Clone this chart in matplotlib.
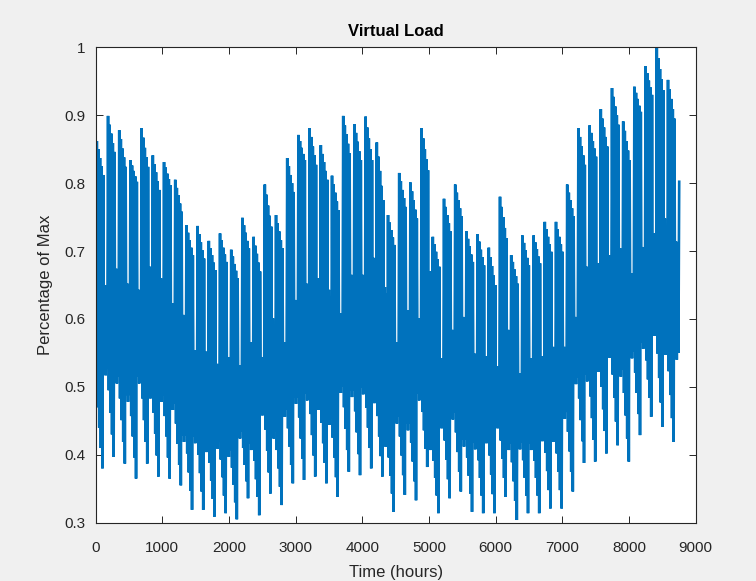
import numpy as np
import matplotlib
matplotlib.use("Agg")
import matplotlib.pyplot as plt

# Daily peak load (fraction of annual max), one row per week: Mon..Sun
daily_max_by_week = [
    [0.862, 0.850, 0.837, 0.825, 0.812, 0.650, 0.640],
    [0.899, 0.886, 0.873, 0.859, 0.846, 0.674, 0.664],
    [0.878, 0.865, 0.851, 0.838, 0.824, 0.652, 0.642],
    [0.834, 0.826, 0.818, 0.810, 0.802, 0.643, 0.633],
    [0.881, 0.867, 0.852, 0.838, 0.824, 0.677, 0.667],
    [0.841, 0.828, 0.816, 0.803, 0.790, 0.660, 0.650],
    [0.831, 0.823, 0.814, 0.806, 0.797, 0.623, 0.613],
    [0.805, 0.793, 0.782, 0.770, 0.758, 0.606, 0.596],
    [0.738, 0.727, 0.716, 0.705, 0.694, 0.554, 0.544],
    [0.737, 0.725, 0.713, 0.701, 0.689, 0.552, 0.542],
    [0.715, 0.704, 0.694, 0.683, 0.672, 0.534, 0.524],
    [0.726, 0.716, 0.705, 0.695, 0.684, 0.544, 0.534],
    [0.702, 0.692, 0.681, 0.671, 0.660, 0.532, 0.522],
    [0.749, 0.738, 0.727, 0.715, 0.704, 0.566, 0.556],
    [0.721, 0.708, 0.696, 0.683, 0.670, 0.544, 0.534],
    [0.798, 0.783, 0.767, 0.752, 0.736, 0.601, 0.591],
    [0.753, 0.741, 0.729, 0.716, 0.704, 0.566, 0.556],
    [0.837, 0.825, 0.812, 0.800, 0.787, 0.628, 0.618],
    [0.871, 0.862, 0.852, 0.843, 0.834, 0.652, 0.642],
    [0.881, 0.868, 0.854, 0.841, 0.827, 0.660, 0.650],
    [0.856, 0.843, 0.831, 0.818, 0.805, 0.643, 0.633],
    [0.811, 0.798, 0.786, 0.773, 0.760, 0.608, 0.598],
    [0.899, 0.885, 0.872, 0.858, 0.844, 0.665, 0.655],
    [0.887, 0.874, 0.861, 0.847, 0.834, 0.665, 0.655],
    [0.898, 0.882, 0.866, 0.850, 0.834, 0.690, 0.680],
    [0.860, 0.839, 0.818, 0.796, 0.775, 0.647, 0.637],
    [0.753, 0.742, 0.731, 0.720, 0.709, 0.566, 0.556],
    [0.815, 0.803, 0.790, 0.778, 0.765, 0.613, 0.603],
    [0.801, 0.788, 0.775, 0.761, 0.748, 0.601, 0.591],
    [0.881, 0.866, 0.850, 0.835, 0.819, 0.670, 0.660],
    [0.721, 0.710, 0.699, 0.688, 0.677, 0.542, 0.532],
    [0.777, 0.765, 0.753, 0.741, 0.729, 0.584, 0.574],
    [0.798, 0.786, 0.775, 0.763, 0.751, 0.603, 0.593],
    [0.729, 0.718, 0.707, 0.695, 0.684, 0.549, 0.539],
    [0.725, 0.714, 0.702, 0.691, 0.679, 0.545, 0.535],
    [0.705, 0.691, 0.678, 0.664, 0.650, 0.530, 0.520],
    [0.780, 0.765, 0.750, 0.734, 0.719, 0.584, 0.574],
    [0.694, 0.684, 0.673, 0.663, 0.652, 0.520, 0.510],
    [0.723, 0.712, 0.701, 0.690, 0.679, 0.542, 0.532],
    [0.723, 0.713, 0.703, 0.692, 0.682, 0.545, 0.535],
    [0.743, 0.732, 0.721, 0.710, 0.699, 0.559, 0.549],
    [0.743, 0.732, 0.721, 0.710, 0.699, 0.559, 0.549],
    [0.798, 0.786, 0.775, 0.763, 0.751, 0.603, 0.593],
    [0.881, 0.868, 0.854, 0.841, 0.827, 0.677, 0.667],
    [0.885, 0.874, 0.862, 0.851, 0.839, 0.682, 0.672],
    [0.909, 0.895, 0.882, 0.868, 0.854, 0.694, 0.684],
    [0.940, 0.927, 0.913, 0.900, 0.886, 0.704, 0.694],
    [0.891, 0.877, 0.862, 0.848, 0.834, 0.667, 0.657],
    [0.942, 0.933, 0.924, 0.914, 0.905, 0.706, 0.696],
    [0.972, 0.962, 0.951, 0.941, 0.930, 0.726, 0.716],
    [1.000, 0.984, 0.968, 0.953, 0.937, 0.748, 0.738],
    [0.952, 0.938, 0.924, 0.909, 0.895, 0.714, 0.704],
]

# Daily minimum load, one row per week: Mon..Sun
daily_min_by_week = [
    [0.500, 0.470, 0.440, 0.410, 0.380, 0.527, 0.517],
    [0.527, 0.495, 0.462, 0.430, 0.397, 0.515, 0.505],
    [0.515, 0.483, 0.451, 0.419, 0.387, 0.488, 0.478],
    [0.488, 0.457, 0.427, 0.396, 0.365, 0.515, 0.505],
    [0.515, 0.483, 0.451, 0.419, 0.387, 0.493, 0.483],
    [0.493, 0.462, 0.431, 0.399, 0.368, 0.488, 0.478],
    [0.488, 0.457, 0.427, 0.396, 0.365, 0.476, 0.466],
    [0.476, 0.446, 0.416, 0.385, 0.355, 0.429, 0.419],
    [0.429, 0.402, 0.374, 0.347, 0.319, 0.427, 0.417],
    [0.427, 0.400, 0.373, 0.346, 0.319, 0.414, 0.404],
    [0.414, 0.388, 0.362, 0.335, 0.309, 0.419, 0.409],
    [0.419, 0.393, 0.367, 0.340, 0.314, 0.407, 0.397],
    [0.407, 0.381, 0.356, 0.330, 0.305, 0.434, 0.424],
    [0.434, 0.410, 0.385, 0.361, 0.336, 0.417, 0.407],
    [0.417, 0.391, 0.364, 0.338, 0.311, 0.468, 0.458],
    [0.468, 0.437, 0.406, 0.374, 0.343, 0.434, 0.424],
    [0.434, 0.407, 0.380, 0.353, 0.326, 0.466, 0.456],
    [0.466, 0.439, 0.412, 0.385, 0.358, 0.485, 0.475],
    [0.485, 0.455, 0.424, 0.394, 0.363, 0.490, 0.480],
    [0.490, 0.460, 0.429, 0.399, 0.368, 0.476, 0.466],
    [0.476, 0.447, 0.417, 0.388, 0.358, 0.454, 0.444],
    [0.454, 0.425, 0.396, 0.367, 0.338, 0.501, 0.491],
    [0.501, 0.470, 0.438, 0.407, 0.375, 0.495, 0.485],
    [0.495, 0.464, 0.433, 0.401, 0.370, 0.499, 0.489],
    [0.499, 0.469, 0.440, 0.410, 0.380, 0.486, 0.476],
    [0.486, 0.457, 0.427, 0.398, 0.368, 0.422, 0.412],
    [0.422, 0.396, 0.369, 0.343, 0.316, 0.456, 0.446],
    [0.456, 0.427, 0.399, 0.370, 0.341, 0.446, 0.436],
    [0.446, 0.418, 0.390, 0.361, 0.333, 0.490, 0.480],
    [0.490, 0.463, 0.436, 0.409, 0.382, 0.417, 0.407],
    [0.417, 0.391, 0.366, 0.340, 0.314, 0.449, 0.439],
    [0.449, 0.421, 0.393, 0.364, 0.336, 0.462, 0.452],
    [0.462, 0.433, 0.404, 0.375, 0.346, 0.422, 0.412],
    [0.422, 0.396, 0.369, 0.343, 0.316, 0.418, 0.408],
    [0.418, 0.392, 0.366, 0.340, 0.314, 0.427, 0.417],
    [0.427, 0.399, 0.371, 0.342, 0.314, 0.449, 0.439],
    [0.449, 0.421, 0.394, 0.366, 0.338, 0.417, 0.407],
    [0.417, 0.389, 0.361, 0.332, 0.304, 0.418, 0.408],
    [0.418, 0.392, 0.366, 0.340, 0.314, 0.417, 0.407],
    [0.417, 0.391, 0.366, 0.340, 0.314, 0.430, 0.420],
    [0.430, 0.403, 0.376, 0.348, 0.321, 0.429, 0.419],
    [0.429, 0.402, 0.375, 0.348, 0.321, 0.463, 0.453],
    [0.463, 0.434, 0.405, 0.375, 0.346, 0.514, 0.504],
    [0.514, 0.483, 0.451, 0.420, 0.388, 0.518, 0.508],
    [0.518, 0.486, 0.454, 0.422, 0.390, 0.532, 0.522],
    [0.532, 0.500, 0.467, 0.435, 0.402, 0.553, 0.543],
    [0.553, 0.518, 0.484, 0.449, 0.414, 0.525, 0.515],
    [0.525, 0.491, 0.458, 0.424, 0.390, 0.552, 0.542],
    [0.552, 0.521, 0.491, 0.460, 0.429, 0.566, 0.556],
    [0.566, 0.539, 0.511, 0.484, 0.456, 0.585, 0.575],
    [0.585, 0.549, 0.513, 0.477, 0.441, 0.557, 0.547],
    [0.557, 0.523, 0.488, 0.454, 0.419, 0.550, 0.540],
]

# Final day of the year (day 365, a Monday)
last_day_max = 0.802
last_day_min = 0.550

# Hour of day at which the daily minimum / maximum occur
hour_of_min = 5
hour_of_max = 17

x_ticks = [0, 1000, 2000, 3000, 4000, 5000, 6000, 7000, 8000, 9000]
y_ticks = [0.3, 0.4, 0.5, 0.6, 0.7, 0.8, 0.9, 1.0]
y_tick_labels = ["0.3", "0.4", "0.5", "0.6", "0.7", "0.8", "0.9", "1"]

day_max = np.concatenate([np.ravel(daily_max_by_week), [last_day_max]])
day_min = np.concatenate([np.ravel(daily_min_by_week), [last_day_min]])
days = np.arange(day_max.size)

# hourly trace: daily trough followed by daily peak
t = np.empty(2 * days.size)
load = np.empty(2 * days.size)
t[0::2] = 24 * days + hour_of_min
t[1::2] = 24 * days + hour_of_max
load[0::2] = day_min
load[1::2] = day_max

plt.rcParams["font.family"] = ["Liberation Sans", "DejaVu Sans"]

fig = plt.figure(figsize=(7.56, 5.81), dpi=100, facecolor="#f0f0f0")
ax = fig.add_axes([0.1266, 0.1003, 0.7936, 0.8183])
ax.set_facecolor("white")

ax.plot(t, load, color="#0072BD", linewidth=1.9, solid_joinstyle="miter",
        antialiased=True)

ax.set_xlim(0, 9000)
ax.set_ylim(0.3, 1.0)
ax.set_xticks(x_ticks)
ax.set_xticklabels([str(v) for v in x_ticks])
ax.set_yticks(y_ticks)
ax.set_yticklabels(y_tick_labels)

axis_color = "#262626"
for side in ax.spines.values():
    side.set_color(axis_color)
    side.set_linewidth(0.8)
ax.tick_params(direction="in", length=5, width=0.7, colors=axis_color,
               labelsize=11, top=True, right=True)
ax.tick_params(axis="x", pad=13)
ax.tick_params(axis="y", pad=7.5)

ax.set_title("Virtual Load", fontsize=12, fontweight="bold", color="black", pad=8)
ax.set_xlabel("Time (hours)", fontsize=12, color=axis_color, labelpad=7.5)
ax.set_ylabel("Percentage of Max", fontsize=12, color=axis_color, labelpad=8)

fig.savefig("out.png", dpi=100, facecolor=fig.get_facecolor())
